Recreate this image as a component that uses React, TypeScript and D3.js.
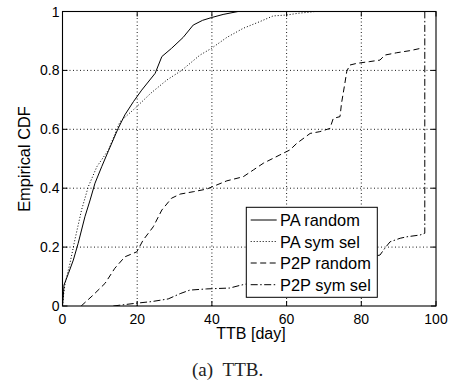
import React from "react";
import * as d3 from "d3";

const xTicks = [0, 20, 40, 60, 80, 100];
const yTicks = [0, 0.2, 0.4, 0.6, 0.8, 1];
const yTickLabels = ["0", "0.2", "0.4", "0.6", "0.8", "1"];

const paRandomDays = [0, 0.3, 0.4, 1.6, 2.9, 4.2, 6, 7.4, 8.7, 10.5, 12.3, 14.9, 16.7, 19, 21.2, 24.8, 26.6, 29.2, 32.3, 35, 37.5, 39.8, 43, 47, 60];
const paRandomCdf = [0, 0.05, 0.071, 0.111, 0.156, 0.213, 0.303, 0.36, 0.417, 0.473, 0.527, 0.603, 0.649, 0.694, 0.733, 0.79, 0.847, 0.875, 0.912, 0.954, 0.97, 0.979, 0.99, 1, 1];

const paSymDays = [0, 0.3, 0.7, 2, 3.3, 5.1, 6.9, 9.2, 12.3, 15.4, 19.4, 23.6, 27.9, 31.9, 36.8, 39.9, 44, 48.4, 52.9, 56.4, 60, 63.1, 65.5, 67.6];
const paSymCdf = [0, 0.04, 0.077, 0.145, 0.224, 0.326, 0.405, 0.473, 0.53, 0.626, 0.671, 0.722, 0.767, 0.8, 0.852, 0.875, 0.912, 0.943, 0.966, 0.985, 0.988, 0.994, 0.997, 1];

const p2pRandomDays = [5, 8.2, 11.4, 14, 16.7, 19.9, 21.6, 24.3, 26.6, 29.2, 31.5, 35, 38.6, 44, 48.4, 51.1, 53.8, 58.2, 60.9, 62.7, 66.3, 68.9, 71.6, 72.5, 74.3, 74.7, 75.6, 76.1, 76.9, 78.8, 82.3, 85, 86.3, 89.5, 93, 96.3];
const p2pRandomCdf = [0, 0.037, 0.077, 0.128, 0.167, 0.184, 0.224, 0.269, 0.326, 0.366, 0.38, 0.388, 0.397, 0.425, 0.439, 0.462, 0.485, 0.513, 0.53, 0.552, 0.586, 0.592, 0.603, 0.637, 0.643, 0.688, 0.756, 0.796, 0.818, 0.824, 0.83, 0.835, 0.852, 0.86, 0.867, 0.876];

const p2pSymDays = [13.6, 19.4, 23.9, 28.3, 31.5, 34.1, 38.6, 44.8, 47.5, 49.3, 55, 62, 70, 78, 85, 86.3, 87.7, 90.4, 92.2, 95.7, 97, 97];
const p2pSymCdf = [0, 0.009, 0.015, 0.024, 0.042, 0.054, 0.058, 0.061, 0.07, 0.075, 0.09, 0.11, 0.13, 0.155, 0.173, 0.196, 0.218, 0.23, 0.235, 0.241, 0.247, 1];

const seriesNames = ["PA random", "PA sym sel", "P2P random", "P2P sym sel"];
const dashes = ["none", "1,2", "6,3.5", "7,2.5,1.5,2.5"];

const W = 468;
const H = 387;
const L = 62.5, R = 436, T = 11.5, B = 306;
const FONT = "'Liberation Sans', Arial, Helvetica, sans-serif";

export default function App() {
  const x = d3.scaleLinear().domain([0, 100]).range([L, R]);
  const y = d3.scaleLinear().domain([0, 1]).range([B, T]);
  const line = d3
    .line<number>()
    .x((d) => d)
    .y((d) => d);

  const mk = (ds: number[], vs: number[]) =>
    d3.line<[number, number]>().x((p) => x(p[0])).y((p) => y(p[1]))(ds.map((d, i) => [d, vs[i]] as [number, number])) || "";

  const paths = [
    mk(paRandomDays, paRandomCdf),
    mk(paSymDays, paSymCdf),
    mk(p2pRandomDays, p2pRandomCdf),
    mk(p2pSymDays, p2pSymCdf),
  ];
  void line;

  const legX0 = 246.3, legY0 = 207.3, legX1 = 377.3, legY1 = 297.3;
  const rowY = [220, 241.5, 263, 284.7];

  return (
    <svg width={W} height={H} style={{ position: "absolute", left: 0, top: 0, background: "#fff" }}>
      <rect x={0} y={0} width={W} height={H} fill="#fff" />
      <defs>
        <clipPath id="plot">
          <rect x={L} y={T - 1} width={R - L} height={B - T + 1} />
        </clipPath>
      </defs>
      {/* grid */}
      {xTicks.slice(1, -1).map((t) => (
        <line key={"gx" + t} x1={x(t)} x2={x(t)} y1={B} y2={T} stroke="#000" strokeWidth={0.9} strokeDasharray="1,2.5" />
      ))}
      {yTicks.slice(1, -1).map((t) => (
        <line key={"gy" + t} x1={L} x2={R} y1={y(t)} y2={y(t)} stroke="#000" strokeWidth={0.9} strokeDasharray="1,2.5" />
      ))}
      {/* curves */}
      <g clipPath="url(#plot)">
        {paths.map((p, i) => (
          <path key={i} d={p} fill="none" stroke="#000" strokeWidth={1} strokeDasharray={dashes[i]} />
        ))}
      </g>
      {/* ticks */}
      {xTicks.map((t) => (
        <g key={"tx" + t}>
          <line x1={x(t)} x2={x(t)} y1={B} y2={B - 5} stroke="#000" />
          <line x1={x(t)} x2={x(t)} y1={T} y2={T + 5} stroke="#000" />
          <text x={x(t)} y={324} fontFamily={FONT} fontSize={14} textAnchor="middle" fill="#000">
            {t}
          </text>
        </g>
      ))}
      {yTicks.map((t, i) => (
        <g key={"ty" + t}>
          <line x1={L} x2={L + 5} y1={y(t)} y2={y(t)} stroke="#000" />
          <line x1={R} x2={R - 5} y1={y(t)} y2={y(t)} stroke="#000" />
          <text x={59.5} y={y(t) + 5} fontFamily={FONT} fontSize={14} textAnchor="end" fill="#000">
            {yTickLabels[i]}
          </text>
        </g>
      ))}
      {/* box */}
      <rect x={L} y={T} width={R - L} height={B - T} fill="none" stroke="#000" strokeWidth={1.1} />
      {/* legend */}
      <rect x={legX0} y={legY0} width={legX1 - legX0} height={legY1 - legY0} fill="#fff" stroke="#000" strokeWidth={1} />
      {seriesNames.map((n, i) => (
        <g key={n}>
          <line x1={250.7} x2={276.7} y1={rowY[i]} y2={rowY[i]} stroke="#000" strokeWidth={1} strokeDasharray={dashes[i]} />
          <text x={280} y={rowY[i] + 6} fontFamily={FONT} fontSize={16.4} fill="#000">
            {n}
          </text>
        </g>
      ))}
      {/* axis labels */}
      <text x={251} y={339} fontFamily={FONT} fontSize={16} textAnchor="middle" fill="#000">
        TTB [day]
      </text>
      <text transform="translate(30,159) rotate(-90)" fontFamily={FONT} fontSize={16.4} textAnchor="middle" fill="#000">
        Empirical CDF
      </text>
      <text x={192} y={376} fontFamily="'Liberation Serif', 'Times New Roman', serif" fontSize={19} fill="#222">
        (a)&#160;&#160;TTB.
      </text>
    </svg>
  );
}
